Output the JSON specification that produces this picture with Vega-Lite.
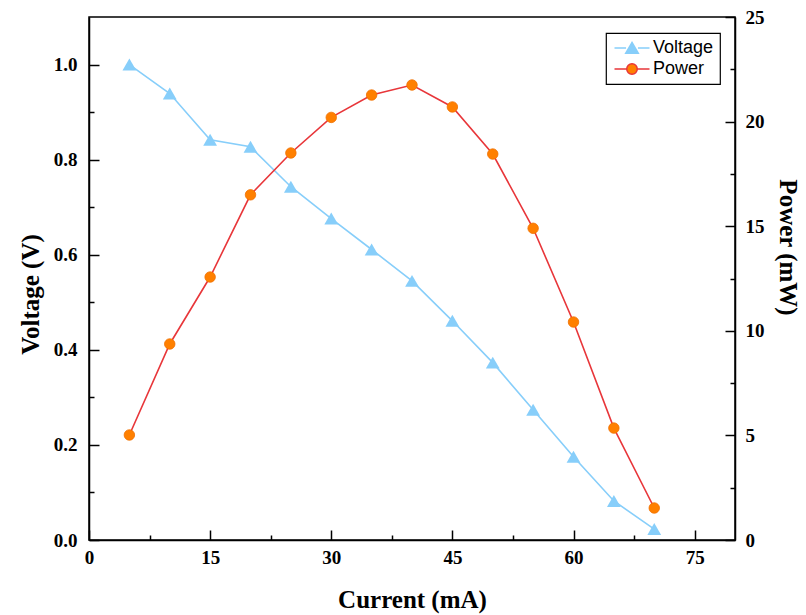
{
  "$schema": "https://vega.github.io/schema/vega-lite/v6.json",
  "autosize": "none",
  "padding": {"left": 89, "top": 17, "right": 71, "bottom": 75},
  "width": 646,
  "height": 523,
  "background": "white",
  "config": {
    "view": {"stroke": "black", "strokeWidth": 1.5},
    "axis": {
      "grid": false,
      "ticks": true,
      "domainColor": "black",
      "domainWidth": 1.5,
      "tickColor": "black",
      "tickWidth": 1.5,
      "labelFont": "Liberation Serif",
      "labelFontWeight": "bold",
      "labelFontSize": 19,
      "labelColor": "black",
      "labelFlush": false,
      "labelOverlap": false,
      "titleFont": "Liberation Serif",
      "titleFontWeight": "bold",
      "titleFontSize": 25,
      "titleColor": "black"
    },
    "legend": {
      "labelFont": "Liberation Sans",
      "labelFontSize": 18,
      "labelColor": "black"
    }
  },
  "data": {
    "values": [
      {"I": 5, "V": 1.0, "P": 5.02},
      {"I": 10, "V": 0.939, "P": 9.37},
      {"I": 15, "V": 0.842, "P": 12.57},
      {"I": 20, "V": 0.827, "P": 16.5},
      {"I": 25, "V": 0.743, "P": 18.5},
      {"I": 30, "V": 0.676, "P": 20.2},
      {"I": 35, "V": 0.611, "P": 21.27},
      {"I": 40, "V": 0.545, "P": 21.75},
      {"I": 45, "V": 0.461, "P": 20.7},
      {"I": 50, "V": 0.373, "P": 18.45},
      {"I": 55, "V": 0.274, "P": 14.9},
      {"I": 60, "V": 0.175, "P": 10.42},
      {"I": 65, "V": 0.082, "P": 5.35},
      {"I": 70, "V": 0.023, "P": 1.53}
    ]
  },
  "encoding": {
    "x": {
      "field": "I",
      "type": "quantitative",
      "scale": {"domain": [0, 80], "nice": false, "zero": false},
      "axis": {
        "title": "Current (mA)",
        "values": [0, 7.5, 15, 22.5, 30, 37.5, 45, 52.5, 60, 67.5, 75],
        "format": ".1f",
        "labelExpr": "datum.value % 15 == 0 ? format(datum.value, 'd') : ''",
        "tickSize": {"condition": {"test": "datum.value % 15 != 0", "value": -5}, "value": -10},
        "labelPadding": 18,
        "titlePadding": 15
      }
    }
  },
  "layer": [
    {
      "layer": [
        {
          "mark": {"type": "line", "strokeWidth": 1.6},
          "encoding": {
            "y": {
              "field": "V",
              "type": "quantitative",
              "scale": {"domain": [0, 1.1], "nice": false},
              "axis": {
                "orient": "left",
                "title": "Voltage (V)",
                "values": [0, 0.1, 0.2, 0.3, 0.4, 0.5, 0.6, 0.7, 0.8, 0.9, 1.0],
                "format": ".1f",
                "labelExpr": "round(datum.value * 10) % 2 == 0 ? format(datum.value, '.1f') : ''",
                "tickSize": {"condition": {"test": "round(datum.value * 10) % 2 == 1", "value": -5}, "value": -10},
                "labelPadding": 22,
                "titlePadding": 10,
                "titleY": 277
              }
            },
            "color": {
              "datum": "Voltage",
              "type": "nominal",
              "scale": {"domain": ["Voltage", "Power"], "range": ["#87CEFA", "#E8363A"]},
              "legend": {
                "title": null,
                "orient": "none",
                "legendX": 517,
                "legendY": 16,
                "padding": 6,
                "strokeColor": "black",
                "symbolSize": 196,
                "symbolOffset": 11,
                "symbolStrokeWidth": 1.5,
                "labelOffset": 12,
                "rowPadding": 3,
                "encode": {
                  "legend": {"update": {"strokeWidth": {"value": 1.2}}},
                  "symbols": {
                    "update": {
                      "shape": {"signal": "datum.value === 'Voltage' ? 'M-2.5,0L-0.85,0M0.85,0L2.5,0M0,-0.8L0.9,0.75L-0.9,0.75Z' : 'M-2.5,0L-0.75,0M0.75,0L2.5,0M0.75,0A0.75,0.75,0,1,1,-0.75,0A0.75,0.75,0,1,1,0.75,0Z'"},
                      "fill": {"signal": "datum.value === 'Voltage' ? '#87CEFA' : '#FF8000'"},
                      "stroke": {"signal": "datum.value === 'Voltage' ? '#87CEFA' : '#E8363A'"},
                      "opacity": {"value": 1}
                    }
                  }
                }
              }
            }
          }
        },
        {
          "mark": {"type": "point", "shape": "triangle-up", "filled": true, "color": "#87CEFA", "opacity": 1, "size": 190},
          "encoding": {
            "y": {"field": "V", "type": "quantitative"}
          }
        }
      ]
    },
    {
      "layer": [
        {
          "mark": {"type": "line", "strokeWidth": 1.6},
          "encoding": {
            "y": {
              "field": "P",
              "type": "quantitative",
              "scale": {"domain": [0, 25], "nice": false},
              "axis": {
                "orient": "right",
                "title": "Power (mW)",
                "values": [0, 2.5, 5, 7.5, 10, 12.5, 15, 17.5, 20, 22.5, 25],
                "format": ".1f",
                "labelExpr": "datum.value % 5 == 0 ? format(datum.value, 'd') : ''",
                "tickSize": {"condition": {"test": "datum.value % 5 != 0", "value": -5}, "value": -10},
                "labelPadding": 20,
                "titlePadding": 10,
                "titleY": 230
              }
            },
            "color": {"datum": "Power", "type": "nominal"}
          }
        },
        {
          "mark": {"type": "point", "shape": "circle", "filled": true, "color": "#FF8000", "stroke": "#F07000", "strokeWidth": 0.8, "opacity": 1, "size": 110},
          "encoding": {
            "y": {"field": "P", "type": "quantitative"}
          }
        }
      ]
    }
  ],
  "resolve": {"scale": {"y": "independent"}}
}
